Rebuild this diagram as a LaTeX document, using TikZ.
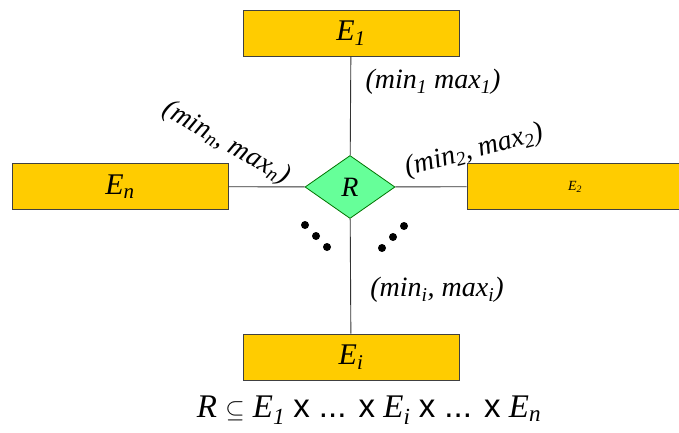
\documentclass[tikz,border=0pt]{standalone}
\usepackage{fontspec}
\setmainfont{Liberation Serif}
\newfontfamily\arialfont{Liberation Sans}
\usetikzlibrary{shapes.geometric}

\begin{document}
\begin{tikzpicture}[x=1pt,y=-1pt,
  ent/.style={rectangle,draw=black!75,fill=cbox,line width=0.8pt,
              minimum width=216pt,minimum height=46pt,inner sep=0pt,
              font=\fontsize{30}{32}\selectfont\itshape},
  rel/.style={diamond,draw=green!45!black,fill=crel,line width=0.8pt,
              minimum width=90pt,minimum height=63pt,inner sep=0pt,
              font=\fontsize{28}{30}\selectfont\itshape},
  lnk/.style={draw=black!80,line width=0.9pt},
  card/.style={font=\fontsize{28}{30}\selectfont\itshape,inner sep=0pt},
]
  \definecolor{cbox}{HTML}{FFCC00}
  \definecolor{crel}{HTML}{66FF99}
  \useasboundingbox (0,0) rectangle (679,433);

  % entities
  \node[ent] (e1) at (351,33) {E\textsubscript{1}};
  \node[ent] (en) at (120,186.5) {E\textsubscript{n}};
  \node[ent,font=\fontsize{14}{16}\selectfont\itshape] (e2) at (575,186.5) {E\textsubscript{2}};
  \node[ent] (ei) at (351,357) {E\textsubscript{i}};
  % relationship
  \node[rel] (r) at (350,187) {R};

  % links
  \draw[lnk] (e1) -- (r);
  \draw[lnk] (r) -- (ei);
  \draw[lnk] (en) -- (r);
  \draw[lnk] (r) -- (e2);

  % cardinalities
  \node[card] (c1) at (433,82) {(min\textsubscript{1} max\textsubscript{1})};
  \node[card,rotate=15] (c2) at (474,151) {(min\textsubscript{2}, max\textsubscript{2})};
  \node[card,rotate=-30] (cn) at (226,143) {(min\textsubscript{n}, max\textsubscript{n})};
  \node[card] (ci) at (437,290) {(min\textsubscript{i}, max\textsubscript{i})};

  % dots
  \foreach \p in {(305,225),(316,236),(327,247),(404,226),(393,237),(382,248)}
    \fill \p circle (4);

  % formula
  \node[font=\fontsize{33}{35}\selectfont] (frm) at (369,410)
    {\textit{R} $\subseteq$ \textit{E\textsubscript{1}} {\arialfont x ... x} \textit{E\textsubscript{i}} {\arialfont x ... x} \textit{E\textsubscript{n}}};
\end{tikzpicture}
\end{document}
